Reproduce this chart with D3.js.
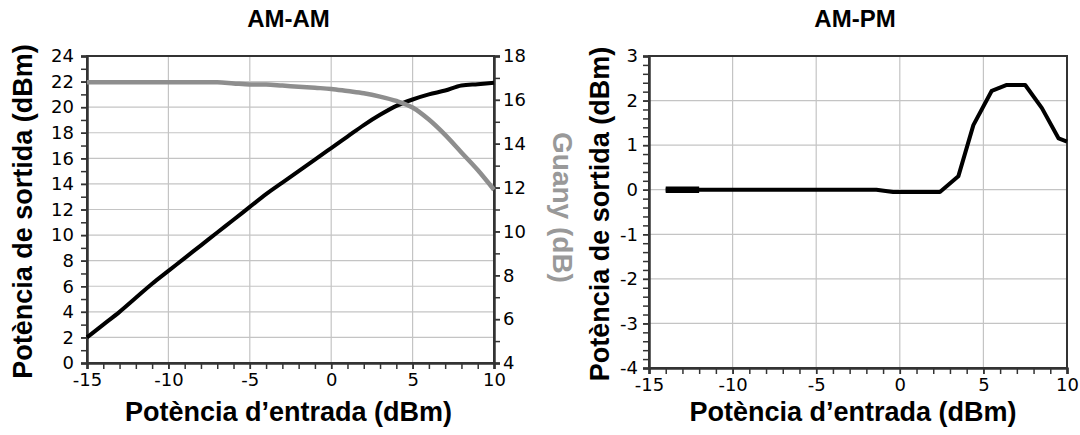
<!DOCTYPE html>
<html>
<head>
<meta charset="utf-8">
<script src="https://cdn.jsdelivr.net/npm/d3@7"></script>
<style>
  html, body { margin: 0; padding: 0; background: #fff; }
  svg { display: block; }
  .tick text { font-family: "DejaVu Sans", sans-serif; font-size: 18px; fill: #000; }
  .title { font-family: "Liberation Sans", Arial, sans-serif; font-weight: bold; }
</style>
</head>
<body>
<svg id="chart" width="1080" height="435"></svg>
<script>
// Input power sweep (dBm)
const pin = [-15, -14, -13, -12, -11, -10, -9, -8, -7, -6, -5, -4, -3, -2, -1, 0, 1, 2, 3, 4, 5, 6, 7, 8, 9, 10];
// Output power (dBm)
const pout = [2.0, 3.0, 4.0, 5.1, 6.2, 7.2, 8.2, 9.2, 10.2, 11.2, 12.2, 13.2, 14.1, 15.0, 15.9, 16.8, 17.7, 18.6, 19.4, 20.1, 20.6, 21.0, 21.3, 21.7, 21.8, 21.9];
// Gain (dB)
const gain = [16.8, 16.8, 16.8, 16.8, 16.8, 16.8, 16.8, 16.8, 16.8, 16.75, 16.7, 16.7, 16.65, 16.6, 16.55, 16.5, 16.4, 16.3, 16.15, 15.95, 15.65, 15.1, 14.4, 13.6, 12.8, 11.9];

// AM-PM: input power (dBm) and phase deviation
const pinPm = [-14, -12, -2, -1.4, -0.4, 1, 2.4, 3.5, 4.4, 5.5, 6.4, 7.5, 8.5, 9.5, 10];
const phase = [0, 0, 0, 0, -0.05, -0.05, -0.05, 0.3, 1.45, 2.22, 2.35, 2.35, 1.83, 1.15, 1.08];

// Tick values
const xTicks = [-15, -10, -5, 0, 5, 10];
const poutTicks = [0, 2, 4, 6, 8, 10, 12, 14, 16, 18, 20, 22, 24];
const gainTicks = [4, 6, 8, 10, 12, 14, 16, 18];
const phaseTicks = [-4, -3, -2, -1, 0, 1, 2, 3];

const svg = d3.select("#chart");
const gridColor = "#c4c4c4";
const frameColor = "#333";

function styleAxis(g) {
  g.selectAll(".domain").attr("stroke", frameColor).attr("stroke-width", 2);
  g.selectAll(".tick line").attr("stroke", frameColor).attr("stroke-width", 1.5);
}

function drawFrame(g, w, h) {
  g.append("rect").attr("x", 0).attr("y", 0).attr("width", w).attr("height", h)
    .attr("fill", "none").attr("stroke", frameColor).attr("stroke-width", 2);
}

// ---------- AM-AM ----------
{
  const L = 87, T = 56, W = 494 - 87, H = 363 - 56;
  const g = svg.append("g").attr("transform", `translate(${L},${T})`);
  const x = d3.scaleLinear().domain([-15, 10]).range([0, W]);
  const y = d3.scaleLinear().domain([0, 24]).range([H, 0]);
  const y2 = d3.scaleLinear().domain([4, 18]).range([H, 0]);

  // grid
  g.append("g").selectAll("line").data(xTicks).join("line")
    .attr("x1", d => x(d)).attr("x2", d => x(d)).attr("y1", 0).attr("y2", H)
    .attr("stroke", gridColor).attr("stroke-width", 1.2);
  g.append("g").selectAll("line").data(poutTicks).join("line")
    .attr("y1", d => y(d)).attr("y2", d => y(d)).attr("x1", 0).attr("x2", W)
    .attr("stroke", gridColor).attr("stroke-width", 1.2);

  // minor ticks
  g.append("g").attr("transform", `translate(0,${H})`)
    .call(d3.axisBottom(x).tickValues(d3.range(-15, 11)).tickSize(6).tickFormat(""))
    .call(styleAxis);
  g.append("g").call(d3.axisLeft(y).tickValues(d3.range(0, 25)).tickSize(6).tickFormat(""))
    .call(styleAxis);
  g.append("g").attr("transform", `translate(${W},0)`)
    .call(d3.axisRight(y2).tickValues(d3.range(4, 19)).tickSize(6).tickFormat(""))
    .call(styleAxis);

  // labelled axes
  g.append("g").attr("transform", `translate(0,${H})`)
    .call(d3.axisBottom(x).tickValues(xTicks).tickSize(6).tickPadding(4).tickFormat(d => String(d)))
    .call(styleAxis);
  g.append("g").call(d3.axisLeft(y).tickValues(poutTicks).tickSize(6).tickPadding(7).tickFormat(d => String(d)))
    .call(styleAxis);
  g.append("g").attr("transform", `translate(${W},0)`)
    .call(d3.axisRight(y2).tickValues(gainTicks).tickSize(6).tickPadding(3).tickFormat(d => String(d)))
    .call(styleAxis);

  drawFrame(g, W, H);

  const idx = d3.range(pin.length);
  g.append("path").datum(idx)
    .attr("d", d3.line().curve(d3.curveMonotoneX).x(i => x(pin[i])).y(i => y(pout[i])))
    .attr("fill", "none").attr("stroke", "#000").attr("stroke-width", 4)
    .attr("stroke-linejoin", "round");
  g.append("path").datum(idx)
    .attr("d", d3.line().curve(d3.curveMonotoneX).x(i => x(pin[i])).y(i => y2(gain[i])))
    .attr("fill", "none").attr("stroke", "#8e8e8e").attr("stroke-width", 4.5)
    .attr("stroke-linejoin", "round");

  svg.append("text").attr("class", "title")
    .attr("x", L + W / 2 - 2).attr("y", 27).attr("text-anchor", "middle")
    .attr("font-size", 24).text("AM-AM");
  svg.append("text").attr("class", "title")
    .attr("x", L + W / 2 - 2).attr("y", 421).attr("text-anchor", "middle")
    .attr("font-size", 27).text("Potència d\u2019entrada (dBm)");
  svg.append("text").attr("class", "title")
    .attr("transform", `translate(32,${T + H / 2 + 2}) rotate(-90)`)
    .attr("text-anchor", "middle").attr("font-size", 27)
    .text("Potència de sortida (dBm)");
  svg.append("text").attr("class", "title")
    .attr("transform", `translate(553,${T + H / 2 - 2}) rotate(90)`)
    .attr("text-anchor", "middle").attr("font-size", 28).attr("fill", "#999")
    .text("Guany (dB)");
}

// ---------- AM-PM ----------
{
  const L = 649, T = 56, W = 1067 - 649, H = 368 - 56;
  const g = svg.append("g").attr("transform", `translate(${L},${T})`);
  const x = d3.scaleLinear().domain([-15, 10]).range([0, W]);
  const y = d3.scaleLinear().domain([-4, 3]).range([H, 0]);

  g.append("g").selectAll("line").data(xTicks).join("line")
    .attr("x1", d => x(d)).attr("x2", d => x(d)).attr("y1", 0).attr("y2", H)
    .attr("stroke", gridColor).attr("stroke-width", 1.2);
  g.append("g").selectAll("line").data(phaseTicks).join("line")
    .attr("y1", d => y(d)).attr("y2", d => y(d)).attr("x1", 0).attr("x2", W)
    .attr("stroke", gridColor).attr("stroke-width", 1.2);

  g.append("g").attr("transform", `translate(0,${H})`)
    .call(d3.axisBottom(x).tickValues(d3.range(-15, 11)).tickSize(6).tickFormat(""))
    .call(styleAxis);
  g.append("g").call(d3.axisLeft(y).tickValues(d3.range(-20, 16).map(v => v / 5)).tickSize(6).tickFormat(""))
    .call(styleAxis);

  g.append("g").attr("transform", `translate(0,${H})`)
    .call(d3.axisBottom(x).tickValues(xTicks).tickSize(6).tickPadding(4).tickFormat(d => String(d)))
    .call(styleAxis);
  g.append("g").call(d3.axisLeft(y).tickValues(phaseTicks).tickSize(6).tickPadding(5).tickFormat(d => String(d)))
    .call(styleAxis);

  drawFrame(g, W, H);

  const idx = d3.range(pinPm.length);
  const line = d3.line().x(i => x(pinPm[i])).y(i => y(phase[i]));
  g.append("path").datum(idx).attr("d", line)
    .attr("fill", "none").attr("stroke", "#000").attr("stroke-width", 4)
    .attr("stroke-linejoin", "round");
  // first sweep segment is traced twice, giving a heavier stroke
  g.append("path").datum(idx.slice(0, 2)).attr("d", line)
    .attr("fill", "none").attr("stroke", "#000").attr("stroke-width", 6.5);

  svg.append("text").attr("class", "title")
    .attr("x", L + W / 2 - 3).attr("y", 27).attr("text-anchor", "middle")
    .attr("font-size", 24).text("AM-PM");
  svg.append("text").attr("class", "title")
    .attr("x", L + W / 2 - 5).attr("y", 421).attr("text-anchor", "middle")
    .attr("font-size", 27).text("Potència d\u2019entrada (dBm)");
  svg.append("text").attr("class", "title")
    .attr("transform", `translate(609,${T + H / 2 + 2}) rotate(-90)`)
    .attr("text-anchor", "middle").attr("font-size", 27)
    .text("Potència de sortida (dBm)");
}
</script>
</body>
</html>
